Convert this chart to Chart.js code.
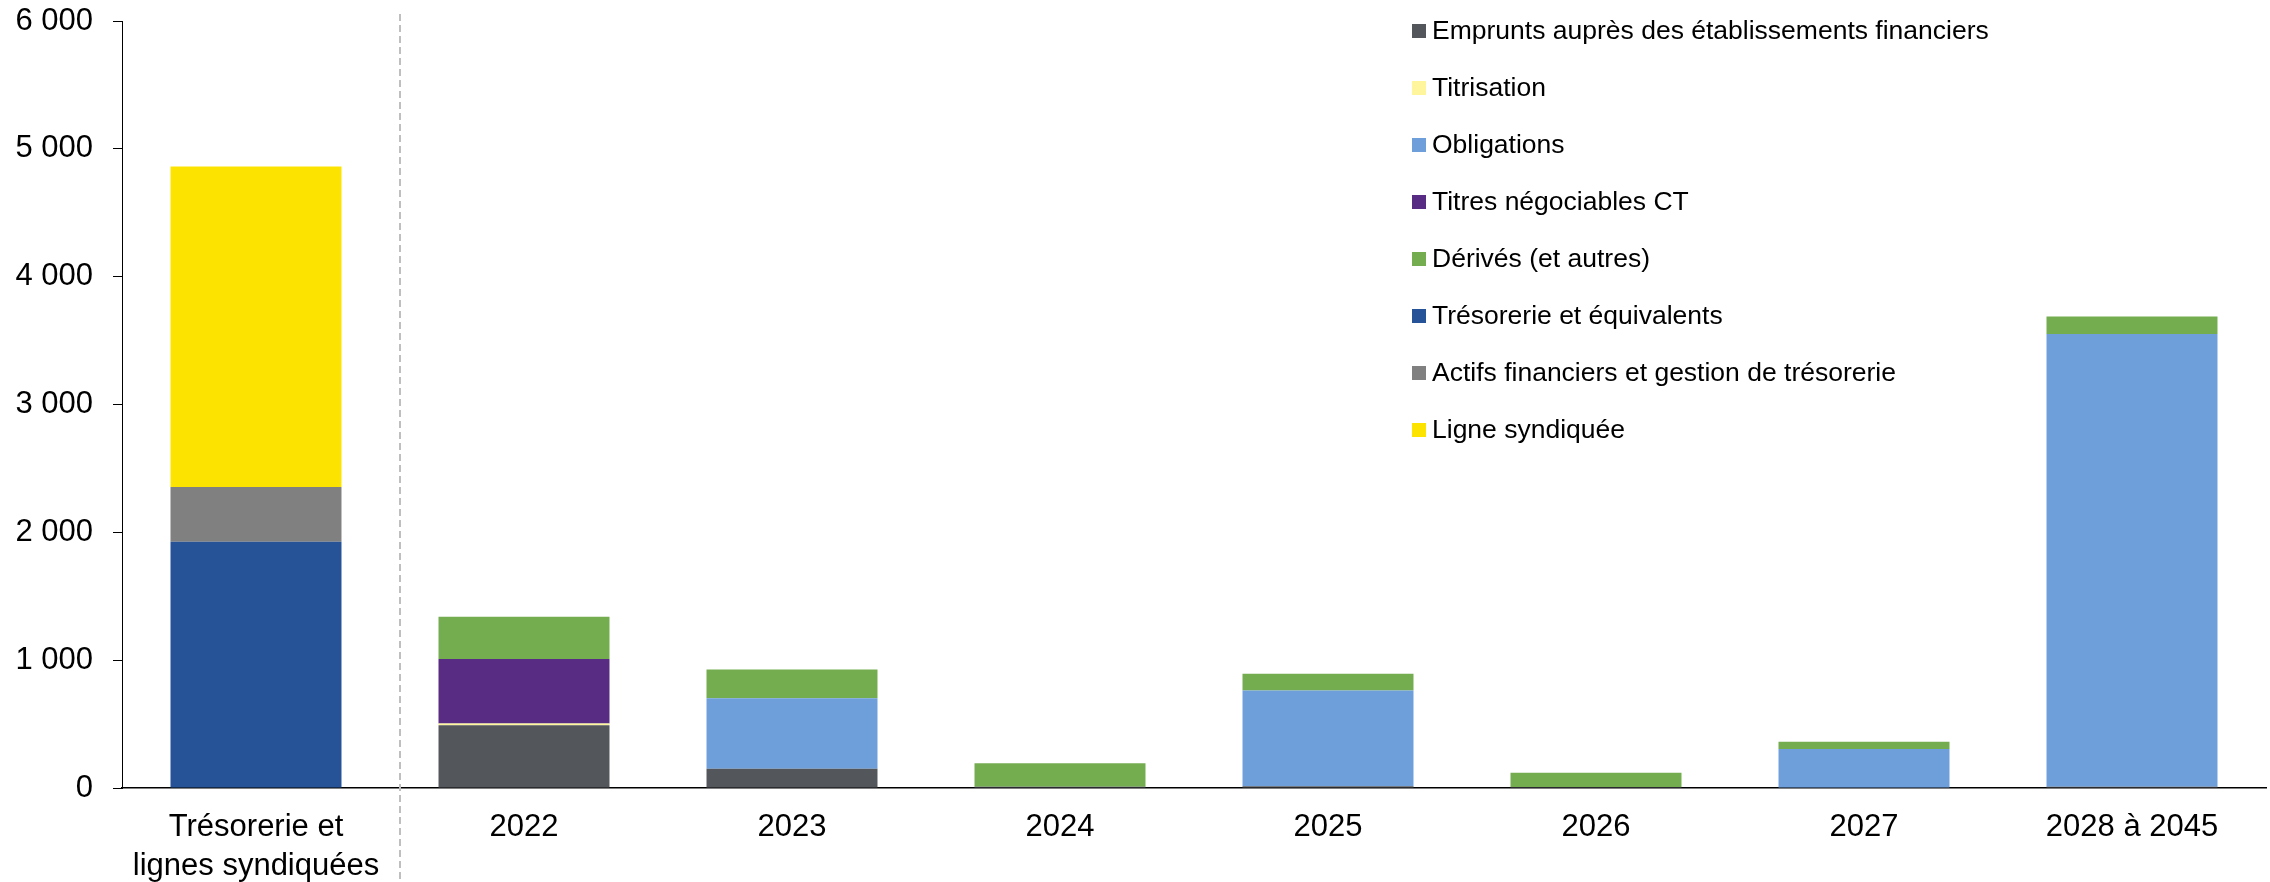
<!DOCTYPE html>
<html>
<head>
<meta charset="utf-8">
<script src="https://cdn.jsdelivr.net/npm/chart.js@4.4.1/dist/chart.umd.min.js"></script>
<style>
  body { margin: 0; background: #fff; }
  #wrap { width: 2270px; height: 882px; }
</style>
</head>
<body>
<div id="wrap"><canvas id="maturityChart" width="2270" height="882"></canvas></div>
<script>
// categories & series (M€)
const categories = [["Trésorerie et", "lignes syndiquées"], "2022", "2023", "2024", "2025", "2026", "2027", "2028 à 2045"];
const emprunts    = [0, 490, 151, 10, 14, 8, 0, 10];
const titrisation = [0, 15, 0, 0, 0, 0, 0, 0];
const obligations = [0, 0, 552, 0, 749, 0, 305, 3542];
const titresCT    = [0, 505, 0, 0, 0, 0, 0, 0];
const derives     = [0, 329, 224, 183, 130, 112, 57, 136];
const tresorerie  = [1927, 0, 0, 0, 0, 0, 0, 0];
const actifs      = [427, 0, 0, 0, 0, 0, 0, 0];
const ligneSynd   = [2507, 0, 0, 0, 0, 0, 0, 0];
const yTicks = [0, 1000, 2000, 3000, 4000, 5000, 6000];

const FONT = "'Liberation Sans', Arial, sans-serif";

function fmt(v) {
    return String(v).replace(/\B(?=(\d{3})+(?!\d))/g, " ");
}

function ds(label, data, color) {
    return { label: label, data: data, backgroundColor: color, borderWidth: 0, stack: "s" };
}

// legende verticale dessinee a la main
const sideLegend = {
    id: "sideLegend",
    afterDraw(chart, args, opts) {
        const ctx = chart.ctx;
        ctx.save();
        ctx.font = "26.5px " + FONT;
        ctx.textBaseline = "middle";
        chart.data.datasets.forEach((d, i) => {
            const y = opts.top + i * opts.step;
            ctx.fillStyle = d.backgroundColor;
            ctx.fillRect(opts.left, y - 7, 14, 14);
            ctx.fillStyle = "#000";
            ctx.fillText(d.label, opts.left + 20, y + 1);
        });
        ctx.restore();
    }
};

// separateur pointille apres la premiere colonne
const separator = {
    id: "separator",
    afterDatasetsDraw(chart) {
        const x = chart.scales.x;
        const px = (x.getPixelForValue(0) + x.getPixelForValue(1)) / 2 + 10;
        const ctx = chart.ctx;
        ctx.save();
        ctx.strokeStyle = "#bfbfbf";
        ctx.lineWidth = 2;
        ctx.setLineDash([7, 4]);
        ctx.beginPath();
        ctx.moveTo(px, 14);
        ctx.lineTo(px, chart.height);
        ctx.stroke();
        ctx.restore();
    }
};

const ctx = document.getElementById("maturityChart").getContext("2d");
new Chart(ctx, {
    type: "bar",
    data: {
        labels: categories,
        datasets: [
            ds("Emprunts auprès des établissements financiers", emprunts, "#53575c"),
            ds("Titrisation", titrisation, "#fff59d"),
            ds("Obligations", obligations, "#6f9fdb"),
            ds("Titres négociables CT", titresCT, "#572c82"),
            ds("Dérivés (et autres)", derives, "#74ad50"),
            ds("Trésorerie et équivalents", tresorerie, "#265298"),
            ds("Actifs financiers et gestion de trésorerie", actifs, "#808080"),
            ds("Ligne syndiquée", ligneSynd, "#fde400"),
        ],
    },
    options: {
        responsive: false,
        devicePixelRatio: 1,
        animation: false,
        layout: { padding: { top: 21, right: 4, left: 0, bottom: 0 } },
        datasets: { bar: { categoryPercentage: 1, barPercentage: 0.638 } },
        scales: {
            x: {
                stacked: true,
                grid: { display: false, drawTicks: false },
                border: { display: true, color: "#000", width: 1.5 },
                ticks: {
                    color: "#000",
                    padding: 20,
                    maxRotation: 0,
                    autoSkip: false,
                    font: { family: FONT, size: 31, lineHeight: 1.25 },
                },
                afterFit(scale) { scale.height = 94; },
            },
            y: {
                stacked: true,
                min: 0,
                max: 6000,
                afterBuildTicks(scale) { scale.ticks = yTicks.map(v => ({ value: v })); },
                grid: { drawOnChartArea: false, drawTicks: true, tickLength: 9, color: "#000", lineWidth: 1 },
                border: { display: true, color: "#000", width: 1 },
                ticks: {
                    color: "#000",
                    padding: 20,
                    font: { family: FONT, size: 31 },
                    callback: v => fmt(v),
                },
                afterFit(scale) {
                    scale.width = 122;
                    scale.paddingTop = 0;
                    scale.paddingBottom = 0;
                },
            },
        },
        plugins: {
            legend: { display: false },
            tooltip: { enabled: false },
            sideLegend: { left: 1412, top: 31, step: 57 },
        },
    },
    plugins: [sideLegend, separator],
});
</script>
</body>
</html>
